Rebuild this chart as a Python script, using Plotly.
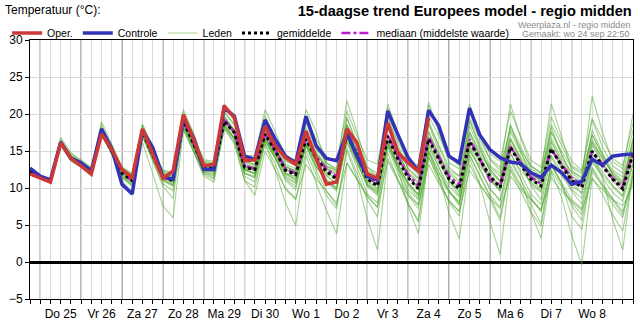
import pandas as pd
import plotly.graph_objects as go

# ---------------- data ----------------
start = "2025-09-24 18:00"
n_points = 60
day_labels = ["Do 25", "Vr 26", "Za 27", "Zo 28", "Ma 29", "Di 30", "Wo 1",
              "Do 2", "Vr 3", "Za 4", "Zo 5", "Ma 6", "Di 7", "Wo 8"]

oper = [11.9,
        11.4, 10.8, 16.1, 14.0,
        13.0, 11.9, 17.3, 15.2,
        12.5, 11.4, 18.0, 14.5,
        11.3, 12.3, 19.9, 16.6,
        13.0, 13.2, 21.1, 19.5,
        13.7, 13.8, 18.3, 15.7,
        14.1, 13.2, 17.7, 14.0,
        10.5, 10.8, 18.0, 16.1,
        11.9, 11.3, 18.8, 14.8,
        13.4, 12.3, 19.5]

controle = [12.7,
            11.6, 11.1, 16.2, 14.0,
            13.4, 12.3, 18.0, 15.3,
            10.5, 9.2, 17.8, 15.5,
            11.5, 11.2, 19.5, 16.8,
            12.5, 12.5, 20.8, 19.7,
            14.3, 13.9, 19.2, 16.6,
            14.3, 13.4, 19.7, 15.7,
            14.0, 13.7, 17.5, 14.3,
            11.6, 11.1, 20.4, 17.2,
            14.1, 12.3, 20.5, 18.4,
            14.3, 13.4, 20.8, 17.2,
            15.2, 14.1, 13.5, 13.3,
            12.1, 11.4, 13.1, 12.1,
            10.5, 10.9, 13.9, 13.1,
            14.3, 14.5, 14.6]

gemiddelde = [12.2,
              11.5, 11.0, 16.1, 14.0,
              13.2, 12.1, 17.6, 15.0,
              12.0, 11.0, 17.6, 14.5,
              11.5, 11.0, 19.0, 16.0,
              12.8, 12.6, 19.0, 17.5,
              12.8, 12.5, 17.3, 15.0,
              12.4, 11.8, 16.6, 14.0,
              12.2, 11.2, 17.3, 14.5,
              11.2, 10.3, 17.0, 13.9,
              11.4, 9.9, 16.6, 13.9,
              11.2, 9.9, 16.3, 13.9,
              11.6, 10.1, 15.5, 13.2,
              11.2, 10.3, 15.3, 13.0,
              11.0, 10.1, 15.0, 13.0,
              11.2, 9.9, 14.6]

mediaan = [12.2,
           11.5, 11.0, 16.1, 14.0,
           13.2, 12.1, 17.6, 15.0,
           12.0, 11.0, 17.6, 14.5,
           11.5, 11.0, 19.0, 16.0,
           12.8, 12.6, 19.2, 17.6,
           13.0, 12.6, 17.4, 15.1,
           12.6, 12.0, 16.7, 14.2,
           12.6, 11.6, 17.5, 14.7,
           11.5, 10.6, 17.2, 14.2,
           11.8, 10.3, 16.9, 14.2,
           11.6, 10.4, 16.6, 14.0,
           11.0, 10.4, 15.6, 13.4,
           11.5, 10.6, 15.2, 13.2,
           11.4, 10.4, 14.9, 13.2,
           11.3, 10.2, 14.7]

leden = [
    [12.4, 11.6, 11.1, 16.3, 14.2, 13.5, 12.4, 18.0, 15.4, 12.3, 11.3, 18.0, 15.0, 12.0, 11.6, 19.6, 16.8, 13.5, 13.2, 20.2, 18.5, 13.6, 13.2, 18.5, 16.2, 13.8, 13.0, 18.2, 15.6, 13.4, 12.6, 18.6, 15.8, 12.8, 12.0, 19.4, 16.3, 13.6, 12.4, 19.8, 17.0, 14.2, 13.0, 19.5, 16.6, 14.0, 12.8, 18.0, 15.2, 13.0, 12.1, 17.6, 15.0, 12.8, 11.9, 17.2, 14.6, 12.4, 11.5, 16.4],
    [12.0, 11.4, 10.9, 15.9, 13.8, 13.0, 11.8, 17.3, 14.6, 11.4, 10.2, 17.1, 13.8, 10.2, 8.6, 18.3, 15.0, 11.6, 10.8, 18.1, 16.2, 11.0, 10.1, 16.0, 13.2, 9.8, 8.4, 15.0, 11.8, 9.0, 7.2, 15.4, 12.0, 8.4, 6.1, 14.8, 11.0, 7.8, 5.6, 14.2, 10.9, 8.2, 6.8, 14.6, 11.6, 8.8, 6.0, 13.0, 10.4, 7.6, 5.2, 13.4, 10.6, 6.2, 4.4, 12.6, 10.2, 7.8, 6.0, 11.6],
    [12.1, 11.5, 11.0, 16.0, 14.3, 13.6, 12.6, 17.8, 15.4, 12.6, 11.8, 17.4, 14.8, 12.3, 12.0, 18.8, 15.6, 12.0, 11.6, 18.4, 16.6, 12.4, 12.0, 17.8, 15.4, 12.8, 12.4, 17.0, 14.6, 13.0, 12.2, 18.2, 15.2, 11.8, 10.8, 18.4, 14.8, 12.0, 10.6, 17.6, 14.6, 12.2, 11.0, 17.6, 15.0, 12.8, 11.6, 16.8, 14.2, 12.0, 11.0, 16.8, 14.0, 12.2, 11.4, 16.6, 14.0, 12.0, 10.8, 15.8],
    [12.3, 11.4, 10.9, 16.4, 14.6, 13.8, 12.8, 18.6, 15.2, 11.0, 9.4, 16.2, 12.0, 7.6, 6.0, 17.8, 15.0, 12.0, 11.4, 19.8, 17.8, 12.0, 11.4, 16.6, 14.0, 11.2, 10.2, 16.0, 13.0, 11.0, 9.8, 17.0, 13.6, 10.2, 9.0, 16.4, 13.2, 10.4, 8.6, 16.0, 12.8, 9.6, 7.8, 15.6, 12.6, 10.0, 8.2, 14.8, 12.0, 9.2, 7.8, 14.2, 11.6, 9.8, 8.6, 13.6, 11.8, 10.2, 8.8, 13.2],
    [12.2, 11.6, 11.2, 16.6, 14.4, 13.4, 12.2, 18.2, 15.8, 12.8, 11.8, 18.6, 15.6, 12.4, 12.2, 20.2, 17.2, 13.8, 13.6, 21.2, 19.4, 14.4, 14.4, 20.6, 17.6, 14.2, 13.8, 19.4, 16.6, 14.2, 13.6, 20.4, 17.0, 13.8, 13.2, 20.8, 17.4, 14.0, 13.0, 21.2, 17.8, 14.2, 13.2, 20.6, 17.4, 14.6, 13.6, 20.4, 17.0, 13.8, 12.8, 19.6, 16.4, 13.6, 12.4, 19.4, 16.6, 14.0, 13.0, 18.8],
    [12.1, 11.4, 10.9, 15.8, 13.6, 12.8, 11.8, 17.2, 14.6, 11.6, 10.6, 17.0, 14.0, 11.0, 10.4, 18.4, 15.4, 12.2, 11.8, 18.2, 16.6, 12.0, 11.4, 16.4, 14.0, 11.4, 10.6, 15.8, 13.0, 10.8, 9.6, 16.2, 12.8, 9.2, 8.0, 15.6, 12.0, 9.0, 7.2, 14.8, 11.4, 8.0, 6.2, 14.0, 10.6, 5.4, 1.0, 12.4, 9.6, 6.8, 4.8, 12.2, 8.8, 3.6, -0.4, 11.4, 9.2, 6.4, 4.2, 11.8],
    [12.3, 11.5, 11.0, 16.2, 14.0, 13.2, 12.0, 17.7, 15.0, 12.0, 10.8, 17.8, 14.6, 11.6, 11.0, 19.4, 16.2, 13.0, 12.8, 19.6, 17.8, 12.6, 12.4, 18.0, 15.6, 12.0, 11.6, 17.4, 14.6, 12.6, 11.6, 19.6, 16.0, 11.4, 10.6, 19.0, 15.2, 11.6, 9.8, 18.6, 15.0, 11.0, 9.6, 19.2, 15.6, 12.2, 10.8, 18.6, 15.0, 11.8, 11.0, 18.2, 14.6, 11.4, 10.6, 17.8, 14.8, 11.8, 10.2, 16.8],
    [12.2, 11.5, 11.0, 16.0, 14.0, 13.1, 12.0, 17.4, 14.8, 12.0, 11.2, 17.8, 14.2, 11.2, 10.4, 18.6, 15.8, 12.6, 12.2, 18.8, 17.2, 12.8, 12.4, 17.0, 14.6, 12.0, 11.0, 16.2, 13.4, 11.2, 10.0, 16.8, 13.8, 10.6, 9.4, 16.4, 13.2, 10.8, 9.0, 16.0, 13.4, 11.0, 9.4, 15.0, 13.0, 11.4, 9.8, 14.6, 12.4, 10.8, 9.6, 14.4, 12.2, 10.2, 9.4, 14.0, 12.2, 10.4, 9.0, 13.6],
    [12.0, 11.3, 10.8, 16.0, 14.4, 13.6, 12.6, 17.8, 15.2, 12.4, 11.6, 17.4, 14.8, 12.0, 11.4, 18.8, 16.4, 13.2, 13.0, 19.2, 17.2, 12.6, 11.8, 16.8, 14.2, 11.0, 9.8, 15.8, 12.4, 9.6, 7.6, 15.0, 11.4, 5.8, 1.6, 14.0, 11.2, 8.0, 5.4, 15.2, 12.0, 9.6, 7.6, 16.4, 13.6, 11.2, 9.6, 16.0, 13.6, 10.4, 8.4, 15.4, 13.0, 11.0, 10.2, 16.2, 13.4, 11.6, 10.6, 15.2],
    [12.4, 11.7, 11.2, 16.8, 14.8, 13.6, 12.4, 19.0, 16.0, 12.8, 12.0, 18.6, 15.4, 12.0, 11.6, 20.6, 17.4, 13.4, 13.0, 21.4, 19.0, 13.6, 13.2, 19.8, 16.4, 13.2, 12.6, 20.6, 17.6, 13.0, 12.4, 21.8, 17.6, 12.8, 11.6, 21.4, 17.4, 13.2, 11.8, 21.6, 17.6, 13.4, 12.6, 21.4, 17.2, 13.8, 12.4, 21.4, 16.8, 13.0, 12.0, 21.4, 17.0, 12.4, 11.4, 22.4, 17.6, 13.6, 12.6, 20.0],
    [12.1, 11.4, 10.9, 15.8, 13.8, 12.8, 11.6, 17.2, 14.6, 11.6, 10.4, 17.2, 14.0, 11.0, 10.2, 18.2, 15.4, 12.2, 11.8, 18.4, 16.8, 12.0, 11.6, 16.4, 14.0, 11.6, 10.8, 15.6, 12.8, 11.0, 10.0, 16.2, 13.4, 10.4, 9.6, 16.0, 12.8, 9.4, 7.6, 15.0, 12.2, 9.6, 8.0, 14.4, 11.8, 9.0, 7.4, 13.6, 11.2, 8.6, 6.8, 13.0, 10.8, 8.4, 7.2, 13.6, 11.4, 9.4, 8.2, 13.2],
    [12.2, 11.5, 11.0, 16.2, 14.2, 13.4, 12.3, 17.6, 14.8, 11.8, 10.8, 17.4, 14.2, 11.4, 10.8, 18.8, 15.6, 12.4, 12.0, 18.6, 16.6, 11.6, 10.8, 16.0, 12.4, 8.0, 4.9, 14.4, 10.6, 7.0, 3.8, 13.4, 11.2, 9.0, 7.4, 15.8, 12.6, 10.6, 9.2, 17.0, 14.0, 10.8, 9.0, 17.2, 14.4, 11.8, 10.2, 16.6, 14.0, 11.2, 9.8, 16.2, 13.4, 10.8, 9.2, 15.8, 13.4, 11.0, 9.6, 14.4],
    [12.3, 11.6, 11.1, 16.1, 13.9, 13.0, 12.0, 17.5, 15.2, 12.2, 11.2, 18.0, 14.8, 11.8, 11.4, 19.2, 16.2, 13.0, 12.6, 19.4, 17.6, 13.2, 12.8, 17.8, 15.4, 12.8, 12.4, 17.4, 14.8, 12.6, 11.8, 18.4, 15.2, 11.8, 11.0, 18.2, 14.6, 12.2, 10.8, 17.6, 14.4, 12.0, 10.6, 17.6, 14.6, 12.6, 11.0, 16.6, 13.8, 11.6, 10.8, 16.4, 13.6, 11.6, 10.8, 16.2, 14.0, 12.2, 11.0, 15.6],
    [12.2, 11.5, 11.0, 16.0, 14.1, 13.2, 12.2, 17.6, 15.0, 12.2, 11.2, 17.6, 14.6, 11.6, 11.0, 19.0, 16.0, 12.8, 12.4, 19.0, 17.4, 12.4, 12.0, 16.8, 14.4, 11.8, 11.2, 16.2, 13.6, 11.6, 10.6, 16.6, 13.4, 10.4, 9.2, 15.8, 12.8, 9.8, 8.4, 14.8, 11.6, 6.6, 3.1, 13.2, 10.6, 8.4, 5.6, 12.6, 10.2, 8.6, 7.0, 13.0, 10.6, 7.6, 5.6, 12.2, 10.4, 8.4, 6.4, 12.4],
    [12.1, 11.4, 11.0, 16.3, 14.0, 13.2, 12.0, 17.8, 15.2, 12.4, 11.4, 17.8, 14.8, 11.8, 11.2, 19.4, 16.4, 13.2, 12.8, 19.6, 17.8, 13.4, 13.0, 18.2, 15.8, 13.0, 12.2, 17.8, 15.2, 12.8, 12.0, 18.6, 15.6, 12.2, 11.4, 18.6, 15.4, 12.6, 11.4, 18.8, 15.6, 12.4, 11.6, 19.0, 16.0, 13.0, 12.0, 18.4, 15.6, 12.6, 11.8, 18.6, 15.8, 13.0, 12.2, 19.2, 15.6, 13.0, 12.0, 17.8],
    [12.2, 11.5, 11.0, 16.0, 13.9, 13.0, 11.9, 17.4, 14.8, 11.8, 10.8, 17.4, 14.2, 11.2, 10.6, 18.6, 15.6, 12.4, 12.2, 18.6, 16.8, 12.6, 12.0, 16.8, 14.6, 12.0, 11.4, 16.2, 13.6, 11.8, 10.6, 16.8, 13.8, 10.8, 9.8, 16.2, 13.2, 10.6, 9.0, 15.6, 12.8, 10.2, 8.8, 15.2, 12.6, 9.8, 8.4, 14.0, 11.4, 6.8, 3.2, 12.4, 10.2, 8.0, 6.4, 12.8, 10.6, 8.6, 6.8, 11.0],
    [12.3, 11.6, 11.0, 16.2, 14.0, 13.2, 12.1, 17.6, 15.0, 12.2, 11.2, 17.8, 14.6, 11.6, 11.0, 19.0, 16.2, 13.0, 12.6, 19.2, 17.6, 13.0, 12.6, 17.4, 15.0, 12.6, 11.8, 16.8, 14.2, 12.2, 11.2, 17.4, 14.4, 11.0, 10.0, 16.6, 12.6, 7.6, 3.8, 14.2, 11.4, 9.4, 8.2, 15.8, 13.4, 11.0, 9.6, 15.6, 13.0, 10.6, 9.4, 15.6, 12.6, 9.6, 7.8, 14.4, 11.6, 5.8, 1.6, 12.4],
    [12.2, 11.5, 11.1, 16.2, 14.2, 13.4, 12.4, 18.0, 15.6, 12.6, 11.6, 18.2, 15.2, 12.2, 11.8, 19.8, 16.8, 13.6, 13.4, 20.4, 18.6, 14.0, 13.6, 19.2, 16.6, 13.6, 13.0, 18.8, 15.8, 13.4, 12.4, 19.4, 16.0, 12.4, 11.6, 19.6, 15.8, 12.6, 11.2, 19.0, 15.8, 12.8, 11.6, 18.4, 15.4, 12.4, 11.0, 17.6, 14.8, 12.2, 11.4, 17.6, 14.6, 12.0, 11.0, 17.2, 14.4, 11.8, 10.6, 16.4],
    [12.0, 11.4, 10.8, 15.9, 13.8, 12.9, 11.8, 17.3, 14.6, 11.4, 10.4, 17.0, 13.6, 10.6, 9.6, 18.0, 15.0, 11.8, 11.2, 18.0, 16.0, 11.0, 9.0, 15.0, 12.4, 10.0, 8.6, 13.2, 11.2, 9.6, 8.0, 13.4, 11.0, 8.8, 7.4, 13.6, 11.0, 9.0, 7.8, 13.2, 10.6, 8.4, 6.8, 12.4, 10.4, 8.6, 7.2, 11.6, 9.8, 8.4, 7.0, 11.4, 9.6, 8.2, 7.0, 11.2, 9.8, 8.4, 7.6, 10.4],
    [12.2, 11.5, 11.0, 16.1, 14.0, 13.2, 12.1, 17.6, 15.0, 12.0, 11.0, 17.6, 14.4, 11.4, 10.8, 19.0, 16.0, 12.8, 12.6, 19.0, 17.4, 12.8, 12.4, 17.2, 15.0, 12.4, 11.8, 16.6, 14.0, 12.2, 11.2, 17.4, 14.6, 11.2, 10.4, 17.0, 13.8, 11.4, 10.0, 16.6, 13.8, 11.4, 10.0, 16.4, 14.0, 11.6, 10.2, 15.6, 13.4, 11.2, 10.4, 15.4, 13.2, 11.0, 10.2, 15.0, 13.0, 11.2, 10.0, 14.6],
]

# ---------------- figure ----------------
times = pd.date_range(start, periods=n_points, freq="6h")
x_start, x_end = times[0], times[-1]
day_starts = pd.date_range("2025-09-25", "2025-10-09", freq="D")
tick_times = times
noon_times = pd.date_range("2025-09-25 12:00", periods=len(day_labels), freq="D")
label_map = {t: lab for t, lab in zip(noon_times, day_labels)}
tick_text = [label_map.get(t, "") for t in tick_times]

FONT = "Liberation Sans, Arial, sans-serif"
fig = go.Figure()

for i, member in enumerate(leden):
    fig.add_trace(go.Scatter(
        x=times, y=member, mode="lines", name="Leden",
        legendgroup="leden", showlegend=(i == 0), legendrank=3,
        line=dict(color="rgba(75,165,40,0.5)", width=1.1),
        hoverinfo="skip"))

fig.add_trace(go.Scatter(
    x=times, y=mediaan, mode="lines", name="mediaan (middelste waarde)",
    legendrank=5, line=dict(color="rgb(190,30,205)", width=2.5, dash="dashdot")))
fig.add_trace(go.Scatter(
    x=times, y=gemiddelde, mode="lines", name="gemiddelde",
    legendrank=4, line=dict(color="black", width=3, dash="dot")))
fig.add_trace(go.Scatter(
    x=times, y=controle, mode="lines", name="Controle",
    legendrank=2, line=dict(color="rgb(50,50,185)", width=3.5)))
fig.add_trace(go.Scatter(
    x=times[:len(oper)], y=oper, mode="lines", name="Oper.",
    legendrank=1, line=dict(color="rgb(205,55,55)", width=3.5)))

shapes = []
for d in day_starts:
    shapes.append(dict(type="line", xref="x", yref="paper", x0=d, x1=d, y0=0, y1=1,
                       line=dict(color="#555555", width=1), layer="below"))

fig.update_layout(
    width=640, height=327,
    margin=dict(l=30, r=6, t=40, b=26),
    paper_bgcolor="white", plot_bgcolor="white",
    font=dict(family=FONT, size=12, color="black"),
    title=dict(text="<b>15-daagse trend Europees model - regio midden</b>",
               font=dict(family=FONT, size=14.6, color="black"),
               xref="paper", x=0.998, xanchor="right",
               yref="container", y=0.967, yanchor="middle"),
    showlegend=True,
    legend=dict(orientation="h", x=-0.038, xanchor="left", y=1.027, yanchor="middle",
                font=dict(family=FONT, size=10.5), bgcolor="rgba(0,0,0,0)",
                traceorder="normal", itemwidth=30, tracegroupgap=0),
    shapes=shapes,
    annotations=[
        dict(text="Temperatuur (°C):", xref="paper", yref="paper", x=-0.045, y=1.115,
             xanchor="left", yanchor="middle", showarrow=False,
             font=dict(family=FONT, size=12, color="black")),
        dict(text="Weerplaza.nl - regio midden", xref="paper", yref="paper", x=0.998, y=1.057,
             xanchor="right", yanchor="middle", showarrow=False,
             font=dict(family=FONT, size=9, color="#8a8a8a")),
        dict(text="Gemaakt: wo 24 sep 22:50", xref="paper", yref="paper", x=0.998, y=1.022,
             xanchor="right", yanchor="middle", showarrow=False,
             font=dict(family=FONT, size=9, color="#8a8a8a")),
    ],
    xaxis=dict(range=[x_start, x_end], tickmode="array", tickvals=tick_times, ticktext=tick_text,
               showgrid=True, gridcolor="#d9d9d9", gridwidth=1,
               ticks="outside", ticklen=4, tickcolor="black",
               showline=True, linecolor="black", linewidth=1, mirror=True,
               zeroline=False, tickfont=dict(family=FONT, size=12)),
    yaxis=dict(range=[-5, 30], tickmode="linear", tick0=-5, dtick=5,
               showgrid=True, gridcolor="#d9d9d9", gridwidth=1,
               ticks="outside", ticklen=4, tickcolor="black",
               showline=True, linecolor="black", linewidth=1, mirror=True,
               zeroline=True, zerolinecolor="black", zerolinewidth=3,
               tickfont=dict(family=FONT, size=12)),
)

fig.write_html("out.html")
